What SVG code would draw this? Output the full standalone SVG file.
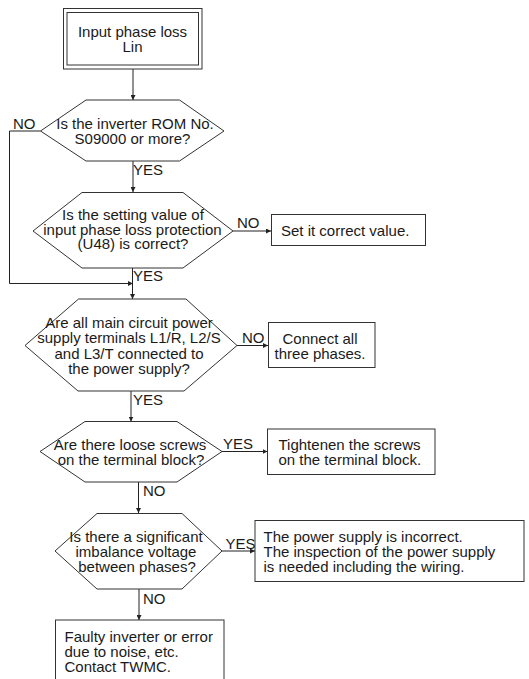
<svg xmlns="http://www.w3.org/2000/svg" width="529" height="679" viewBox="0 0 529 679">
<style>
  text { font-family: "Liberation Sans", Arial, sans-serif; font-size: 15px; fill: #1a1a1a; }
  .c { text-anchor: middle; }
  .shape { fill: #ffffff; stroke: #333333; stroke-width: 1; }
  .line { fill: none; stroke: #222222; stroke-width: 1; }
</style>
<defs>
  <marker id="arr" viewBox="0 0 6 6" refX="6" refY="3" markerWidth="5" markerHeight="5" markerUnits="userSpaceOnUse" orient="auto">
    <path d="M0,0 L6,3 L0,6 z" fill="#222222"/>
  </marker>
</defs>

<g id="connectors">
  <line class="line" x1="133" y1="69" x2="133" y2="100" marker-end="url(#arr)"/>
  <line class="line" x1="133" y1="161" x2="133" y2="192" marker-end="url(#arr)"/>
  <polyline class="line" points="40.5,131 9.5,131 9.5,283.5 133,283.5" marker-end="url(#arr)"/>
  <line class="line" x1="233" y1="231" x2="271" y2="231" marker-end="url(#arr)"/>
  <line class="line" x1="132.5" y1="268" x2="132.5" y2="299" marker-end="url(#arr)"/>
  <line class="line" x1="237" y1="345.5" x2="268" y2="345.5" marker-end="url(#arr)"/>
  <line class="line" x1="131" y1="391" x2="131" y2="421.5" marker-end="url(#arr)"/>
  <line class="line" x1="222" y1="451.5" x2="267.5" y2="451.5" marker-end="url(#arr)"/>
  <line class="line" x1="138.5" y1="482" x2="138.5" y2="513" marker-end="url(#arr)"/>
  <line class="line" x1="222" y1="551" x2="255" y2="551" marker-end="url(#arr)"/>
  <line class="line" x1="139" y1="589" x2="139" y2="620" marker-end="url(#arr)"/>
  <text x="13" y="129">NO</text>
  <text x="133" y="175">YES</text>
  <text x="237" y="228">NO</text>
  <text x="133" y="281">YES</text>
  <text x="242" y="343">NO</text>
  <text x="133" y="405">YES</text>
  <text x="223" y="449">YES</text>
  <text x="143" y="496">NO</text>
  <text x="225.5" y="549">YES</text>
  <text x="143" y="604">NO</text>
</g>

<g id="start">
  <rect class="shape" x="63.5" y="8.5" width="138.5" height="60.5"/>
  <rect class="shape" x="67" y="12.5" width="131.5" height="52.5"/>
  <text class="c" x="132.5" y="37">Input phase loss</text>
  <text class="c" x="132.5" y="52">Lin</text>
</g>

<g id="q1">
  <polygon class="shape" points="86,100 179.5,100 224,131 179.5,161 86,161 40.5,131"/>
  <text class="c" x="135" y="129">Is the inverter ROM No.</text>
  <text class="c" x="132.5" y="144">S09000 or more?</text>
</g>

<g id="q2">
  <polygon class="shape" points="82,192.5 183,192.5 233,231 183,268 82,268 33,231"/>
  <text class="c" x="133" y="219.5">Is the setting value of</text>
  <text class="c" x="132.5" y="234.5">input phase loss protection</text>
  <text class="c" x="133" y="249">(U48) is correct?</text>
</g>

<g id="set-value">
  <rect class="shape" x="271.5" y="214.5" width="154" height="31"/>
  <text x="281" y="236">Set it correct value.</text>
</g>

<g id="q3">
  <polygon class="shape" points="78.5,299 186,299 237,345.5 184,391 78,391 25,345.5"/>
  <text class="c" x="129" y="327.5">Are all main circuit power</text>
  <text class="c" x="129" y="343">supply terminals L1/R, L2/S</text>
  <text class="c" x="129" y="358.5">and L3/T connected to</text>
  <text class="c" x="129" y="374">the power supply?</text>
</g>

<g id="connect-phases">
  <rect class="shape" x="268.5" y="322.5" width="106.5" height="45"/>
  <text class="c" x="320" y="343.5">Connect all</text>
  <text class="c" x="320" y="359">three phases.</text>
</g>

<g id="q4">
  <polygon class="shape" points="85,421.5 177,421.5 222,451.5 177,482 85,482 40,451.5"/>
  <text class="c" x="130" y="449.5">Are there loose screws</text>
  <text class="c" x="131" y="465">on the terminal block?</text>
</g>

<g id="tighten">
  <rect class="shape" x="267.5" y="429" width="167.5" height="45.5"/>
  <text x="278.5" y="449.5">Tightenen the screws</text>
  <text x="278.5" y="465">on the terminal block.</text>
</g>

<g id="q5">
  <polygon class="shape" points="97,513.5 182,513.5 222,551 182,589 97,589 55,551"/>
  <text class="c" x="136" y="541.5">Is there a significant</text>
  <text class="c" x="136" y="556.5">imbalance voltage</text>
  <text class="c" x="137" y="571.5">between phases?</text>
</g>

<g id="power-supply">
  <rect class="shape" x="255" y="520.5" width="269" height="61"/>
  <text x="263.5" y="541.5">The power supply is incorrect.</text>
  <text x="263.5" y="556.5">The inspection of the power supply</text>
  <text x="263.5" y="571.5">is needed including the wiring.</text>
</g>

<g id="faulty">
  <rect class="shape" x="55.5" y="620" width="168.5" height="70"/>
  <text x="64.5" y="641.5">Faulty inverter or error</text>
  <text x="64.5" y="656.5">due to noise, etc.</text>
  <text x="64.5" y="671.5">Contact TWMC.</text>
</g>
</svg>
